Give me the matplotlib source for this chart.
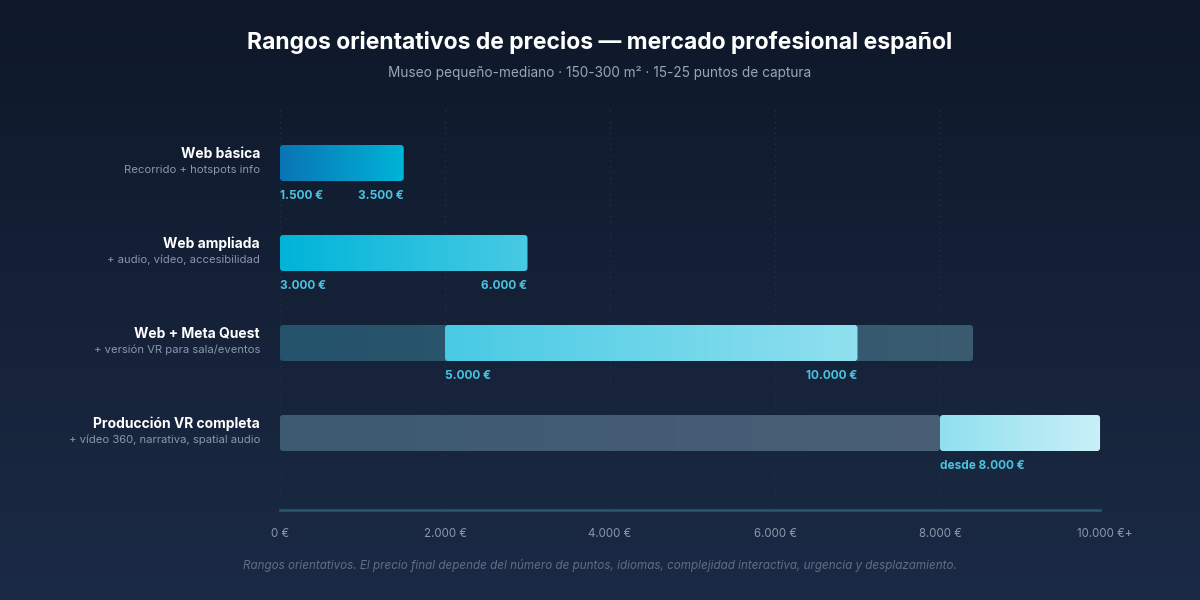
import matplotlib
matplotlib.use("Agg")
import matplotlib.pyplot as plt
import numpy as np
from matplotlib.patches import FancyBboxPatch
from matplotlib.colors import LinearSegmentedColormap

# data
tiers = ["Web básica", "Web ampliada", "Web + Meta Quest", "Producción VR completa"]
descriptions = ["Recorrido + hotspots info", "+ audio, vídeo, accesibilidad",
                "+ versión VR para sala/eventos", "+ vídeo 360, narrativa, spatial audio"]
bar_start = [0, 0, 2000, 8000]
bar_end = [1500, 3000, 7000, 9940]
track_end = [0, 0, 8400, 8000]
low_labels = ["1.500 €", "3.000 €", "5.000 €", "desde 8.000 €"]
high_labels = ["3.500 €", "6.000 €", "10.000 €", ""]
tick_values = [0, 2000, 4000, 6000, 8000, 10000]
tick_labels = ["0 €", "2.000 €", "4.000 €", "6.000 €", "8.000 €", "10.000 €+"]

bar_colors = [("#0a74b4", "#00b4d8"), ("#00b4d8", "#48cae4"),
              ("#48cae4", "#90e0ef"), ("#90e0ef", "#caf0f8")]
track_colors = [None, None, ("#24536b", "#3a5b70"), ("#3c5a71", "#4a5f76")]

FONT = "Inter"
plt.rcParams["font.family"] = [FONT, "DejaVu Sans"]

fig = plt.figure(figsize=(12, 6), dpi=100)

# background gradient
bg = fig.add_axes([0, 0, 1, 1], zorder=-5)
grad = np.linspace(0, 1, 256).reshape(-1, 1)
bg_cmap = LinearSegmentedColormap.from_list("bg", ["#0e1829", "#1b2a45"])
bg.imshow(grad, aspect="auto", cmap=bg_cmap, extent=[0, 1, 0, 1], origin="upper")
bg.set_axis_off()

# plot area: x 280..1105 px, y 110..510 px
ax = fig.add_axes([280 / 1200, 90 / 600, 825 / 1200, 400 / 600])
ax.set_facecolor("none")
y_top = (110 - 163) / 90
y_bot = (510 - 163) / 90
for s in ax.spines.values():
    s.set_visible(False)
ax.set_yticks([])
ax.set_xticks(tick_values)
ax.set_xticklabels(tick_labels, color="#8a96aa", fontsize=8.3)
ax.tick_params(axis="x", length=0, pad=13)

# grid + baseline
ax.vlines(tick_values, y_top, y_bot, colors="#1f304a", linestyles=(0, (1, 3)), linewidth=1, zorder=0)
ax.plot([0, 9940], [y_bot, y_bot], color="#2a5870", linewidth=1.8, zorder=1, clip_on=False)

bar_h = 0.4
px_x = 10000 / 825
px_y = 1 / 90
radius = 3 * px_x
aspect = px_y / px_x


def grad_bar(x0, x1, y, c0, c1, z):
    if x1 <= x0:
        return
    patch = FancyBboxPatch((x0, y - bar_h / 2), x1 - x0, bar_h,
                           boxstyle=f"round,pad=0,rounding_size={radius}",
                           mutation_aspect=aspect, facecolor="none", edgecolor="none")
    ax.add_patch(patch)
    cmap = LinearSegmentedColormap.from_list("g", [c0, c1])
    im = ax.imshow(np.linspace(0, 1, 256).reshape(1, -1), cmap=cmap, aspect="auto",
                   extent=[x0, x1, y + bar_h / 2, y - bar_h / 2], zorder=z)
    im.set_clip_path(patch)


for i, name in enumerate(tiers):
    if track_colors[i] is not None:
        grad_bar(0, track_end[i], i, track_colors[i][0], track_colors[i][1], 2)
    grad_bar(bar_start[i], bar_end[i], i, bar_colors[i][0], bar_colors[i][1], 3)

    ax.annotate(name, xy=(0, i), xytext=(-20, 9), textcoords="offset pixels",
                ha="right", va="center", color="white", fontsize=10, fontweight="bold")
    ax.annotate(descriptions[i], xy=(0, i), xytext=(-20, -7), textcoords="offset pixels",
                ha="right", va="center", color="#8a96aa", fontsize=8.1)
    ax.annotate(low_labels[i], xy=(bar_start[i], i), xytext=(0, -33), textcoords="offset pixels",
                ha="left", va="center", color="#48c4e2", fontsize=8.5, fontweight="bold")
    if high_labels[i]:
        ax.annotate(high_labels[i], xy=(bar_end[i], i), xytext=(0, -33), textcoords="offset pixels",
                    ha="right", va="center", color="#48c4e2", fontsize=8.5, fontweight="bold")

ax.set_xlim(0, 10000)
ax.set_ylim(y_bot, y_top)

fig.text(0.5, 1 - 43 / 600, "Rangos orientativos de precios — mercado profesional español",
         ha="center", va="center", color="white", fontsize=16.5, fontweight="bold")
fig.text(0.5, 1 - 73 / 600, "Museo pequeño-mediano · 150-300 m² · 15-25 puntos de captura",
         ha="center", va="center", color="#9aa5b8", fontsize=9.8)
fig.text(0.5, 1 - 566 / 600,
         "Rangos orientativos. El precio final depende del número de puntos, idiomas, "
         "complejidad interactiva, urgencia y desplazamiento.",
         ha="center", va="center", color="#5f6d85", fontsize=8.4, style="italic")

fig.savefig("out.png", dpi=100)
